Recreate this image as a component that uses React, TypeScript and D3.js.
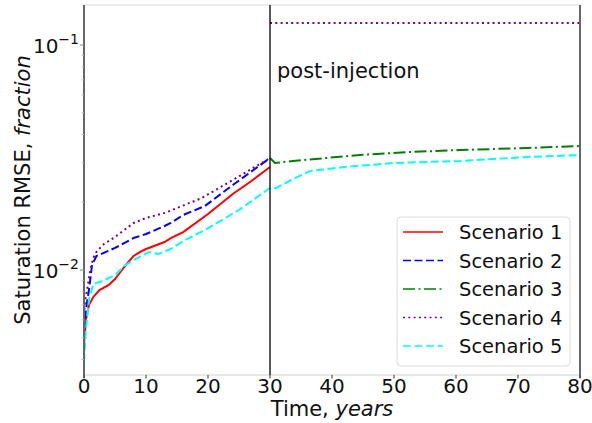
import React from "react";
import * as d3 from "d3";

// ---- data ----
const s1T = [0, 0.3, 0.8, 1.5, 2.5, 4, 5, 6, 7, 8, 9, 10, 13, 14, 16, 20, 24, 27, 30];
const s1V = [0.00464, 0.006, 0.00699, 0.00759, 0.00815, 0.00858, 0.00912, 0.0099, 0.01074, 0.01154, 0.01202, 0.0124, 0.01332, 0.01387, 0.01475, 0.01774, 0.02177, 0.02486, 0.0287];

const s2T = [0, 0.3, 0.8, 1.3, 2, 5, 8, 10, 13, 14, 16, 19.5, 24, 30];
const s2V = [0.00541, 0.00664, 0.00815, 0.01052, 0.01154, 0.01253, 0.01387, 0.01445, 0.01569, 0.01618, 0.01756, 0.01925, 0.02387, 0.03146];

const s3T = [30, 30.8, 33.7, 39, 44.5, 52.6, 60.6, 71.5, 80];
const s3V = [0.03146, 0.0299, 0.03052, 0.03146, 0.03244, 0.03345, 0.03415, 0.03485, 0.03557];

const s4T = [0, 0.2, 0.5, 1, 1.5, 2, 3, 5, 8, 10, 13, 15, 19, 24, 30];
const s4V = [0.00631, 0.00736, 0.00815, 0.01, 0.01131, 0.01202, 0.01292, 0.01402, 0.01618, 0.01703, 0.01792, 0.01886, 0.02089, 0.02512, 0.03146];
const s4PostT = [30, 80];
const s4PostV = [0.1253, 0.1253];

const s5T = [0, 0.3, 0.8, 1.5, 3, 5, 6.5, 8, 10.5, 12, 14, 16, 19.5, 25, 30, 31, 34, 36.5, 42, 50, 60.6, 71.5, 80];
const s5V = [0.0039, 0.00541, 0.00736, 0.00867, 0.00894, 0.0095, 0.01042, 0.01108, 0.01202, 0.01178, 0.0124, 0.01345, 0.01506, 0.01848, 0.02315, 0.02315, 0.02563, 0.02754, 0.0287, 0.0299, 0.03052, 0.03179, 0.03244];

const legendLabels = ["Scenario 1", "Scenario 2", "Scenario 3", "Scenario 4", "Scenario 5"];
const xTicks = [0, 10, 20, 30, 40, 50, 60, 70, 80];
const yMajor = [0.1, 0.01];
const yMajorExp = ["−1", "−2"];
const injectionEnd = 30;

// ---- styles ----
const styles = [
  { color: "#ff0000", dash: "" },
  { color: "#0000ff", dash: "8,3.5" },
  { color: "#008000", dash: "12,3.5,2,3.5" },
  { color: "#800080", dash: "2,3.3" },
  { color: "#00ffff", dash: "8,3.5" },
];

const W = 592, H = 423;
const L = 84, R = 580, T = 5, B = 375;
const FONT = "DejaVu Sans, sans-serif";

export default function App() {
  const x = d3.scaleLinear().domain([0, 80]).range([L, R]);
  const y = d3.scaleLog().domain([0.003415, 0.1506]).range([B, T]);
  const line = d3.line<[number, number]>().x((d) => x(d[0])).y((d) => y(d[1]));
  const zip = (a: number[], b: number[]) => a.map((t, i) => [t, b[i]] as [number, number]);

  const series = [
    [zip(s1T, s1V)],
    [zip(s2T, s2V)],
    [zip(s3T, s3V)],
    [zip(s4T, s4V), zip(s4PostT, s4PostV)],
    [zip(s5T, s5V)],
  ];

  const minor: number[] = [];
  for (const dec of [0.001, 0.01, 0.1]) {
    for (let k = 2; k <= 9; k++) {
      const v = dec * k;
      if (v >= 0.003415 && v <= 0.1506) minor.push(v);
    }
  }

  const legX = 397, legY = 217, legW = 173, legH = 149;
  const rowY = (i: number) => 232 + i * 28.5;

  return (
    <svg width={W} height={H} style={{ position: "absolute", left: 0, top: 0, background: "#fff" }} fontFamily={FONT}>
      <rect x={0} y={0} width={W} height={H} fill="#fff" />
      {/* spines */}
      <line x1={L} x2={R} y1={T} y2={T} stroke="#e6e6e6" strokeWidth={1.5} />
      <line x1={L} x2={R} y1={B} y2={B} stroke="#e0e0e0" strokeWidth={1.5} />

      {/* series */}
      {series.map((segs, i) =>
        segs.map((seg, j) => (
          <path
            key={`${i}-${j}`}
            d={line(seg) || ""}
            fill="none"
            stroke={styles[i].color}
            strokeWidth={2}
            strokeDasharray={styles[i].dash || undefined}
          />
        ))
      )}

      {/* injection end line */}
      <line x1={x(injectionEnd)} x2={x(injectionEnd)} y1={T} y2={B} stroke="#000" strokeWidth={1.3} />
      <text x={277} y={78} fontSize={21} fill="#111">post-injection</text>

      <line x1={L} x2={L} y1={T} y2={B + 3} stroke="#666" strokeWidth={2} />
      <line x1={R} x2={R} y1={T} y2={B + 3} stroke="#666" strokeWidth={2} />

      {/* y minor ticks */}
      {minor.map((v) => (
        <line key={v} x1={L - 2.5} x2={L} y1={y(v)} y2={y(v)} stroke="#bbb" strokeWidth={1} />
      ))}
      {/* y major ticks */}
      {yMajor.map((v, i) => (
        <g key={v}>
          <line x1={L - 4} x2={L} y1={y(v)} y2={y(v)} stroke="#888" strokeWidth={1} />
          <text x={L - 5} y={y(v) + 8} textAnchor="end" fontSize={20} fill="#111">
            10
            <tspan fontSize={14} dy={-9}>{yMajorExp[i]}</tspan>
          </text>
        </g>
      ))}

      {/* x ticks */}
      {xTicks.map((t) => (
        <g key={t}>
          <line x1={x(t)} x2={x(t)} y1={B} y2={B + 3.5} stroke="#555" strokeWidth={1.2} />
          <text x={x(t)} y={393} textAnchor="middle" fontSize={20} fill="#111">{t}</text>
        </g>
      ))}

      {/* axis labels */}
      <text x={332} y={416} textAnchor="middle" fontSize={21} fill="#111">
        Time, <tspan fontStyle="italic">years</tspan>
      </text>
      <text transform={`translate(30,${(T + B) / 2}) rotate(-90)`} textAnchor="middle" fontSize={21} fill="#111">
        Saturation RMSE, <tspan fontStyle="italic">fraction</tspan>
      </text>

      {/* legend */}
      <rect x={legX} y={legY} width={legW} height={legH} rx={4} fill="#fff" fillOpacity={0.8} stroke="#dcdcdc" strokeWidth={1} />
      {legendLabels.map((lab, i) => (
        <g key={lab}>
          <line
            x1={403}
            x2={443}
            y1={rowY(i)}
            y2={rowY(i)}
            stroke={styles[i].color}
            strokeWidth={1.6}
            strokeDasharray={styles[i].dash || undefined}
          />
          <text x={459} y={rowY(i) + 7} fontSize={19.5} fill="#111">{lab}</text>
        </g>
      ))}
    </svg>
  );
}
